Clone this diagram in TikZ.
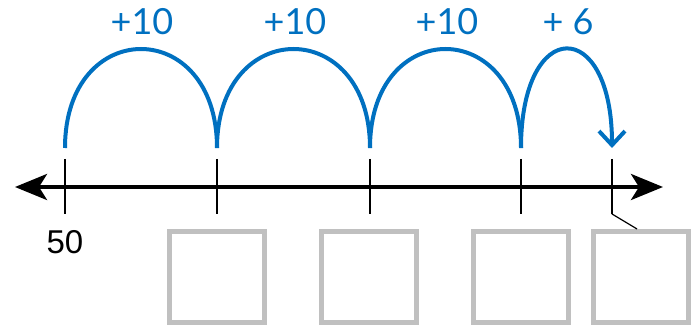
\documentclass[tikz,border=0pt]{standalone}
\usepackage{fontspec}
\setmainfont{Liberation Sans}
\newfontfamily\hopfont{Lato}
\usetikzlibrary{arrows.meta}
\definecolor{jumpblue}{RGB}{0,112,192}
\definecolor{boxgray}{RGB}{192,192,192}
\begin{document}
\begin{tikzpicture}[x=1pt, y=-1pt,
    jump/.style={jumpblue, line width=4pt},
    answer/.style={draw=boxgray, line width=5pt, minimum width=95pt, minimum height=91pt, inner sep=0pt},
    hop/.style={text=jumpblue, font=\hopfont\fontsize{36}{36}\selectfont}]
  \useasboundingbox (0,0) rectangle (691,326);
  % number line
  \coordinate (left) at (15,187);
  \coordinate (right) at (663,187);
  \draw[line width=4pt, {Stealth[length=32pt,width=26pt,inset=8pt]}-{Stealth[length=32pt,width=26pt,inset=8pt]}] (left) -- (right);
  \foreach \x/\n in {65/1, 217/2, 370/3, 521/4, 612/5} {
    \draw[line width=2.5pt] (\x,159) coordinate (top\n) -- (\x,214) coordinate (bot\n);
    \coordinate (hop\n) at (\x,148);
  }
  % jumps
  \draw[jump] (hop1) .. controls +(0,-132) and +(0,-132) .. (hop2);
  \draw[jump] (hop2) .. controls +(0,-132) and +(0,-132) .. (hop3);
  \draw[jump] (hop3) .. controls +(0,-132) and +(0,-132) .. (hop4);
  \draw[jump, -{Straight Barb[length=14pt,width=26pt]}] (hop4) .. controls +(0,-132) and +(0,-132) .. (hop5);
  \node[hop] (add1) at (142,22) {+10};
  \node[hop] (add2) at (295,22) {+10};
  \node[hop] (add3) at (447,22) {+10};
  \node[hop] (add4) at (568,22) {+ 6};
  % start value and answer boxes
  \node[font=\fontsize{33}{33}\selectfont] (start) at (65,242) {50};
  \node[answer] (box1) at (217,277) {};
  \node[answer] (box2) at (369,277) {};
  \node[answer] (box3) at (521,277) {};
  \node[answer] (box4) at (641,277) {};
  \draw[line width=1.2pt] (bot5) -- ([xshift=-4pt]box4.north);
\end{tikzpicture}
\end{document}
